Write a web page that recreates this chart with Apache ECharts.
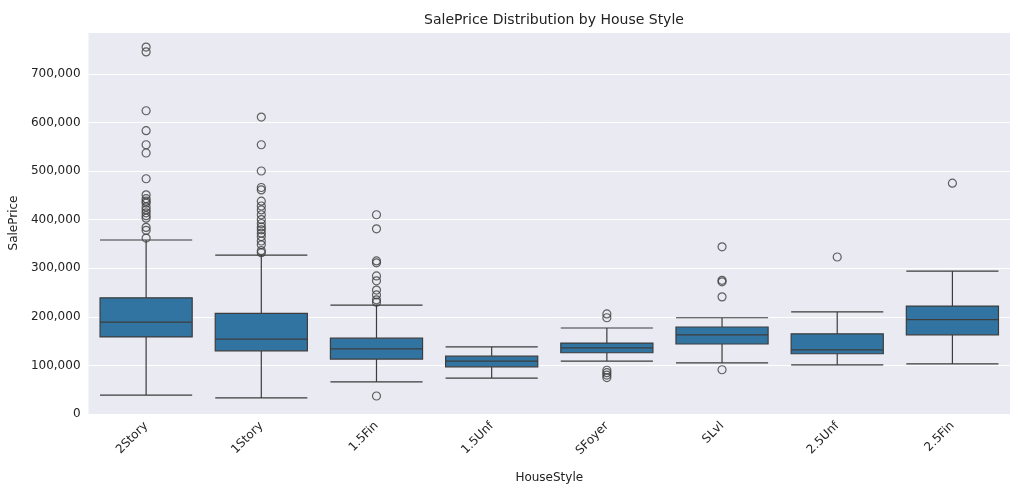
<!DOCTYPE html>
<html><head><meta charset="utf-8">
<script src="https://cdn.jsdelivr.net/npm/echarts@6/dist/echarts.min.js"></script>
<style>body{margin:0;background:#fff}#main{width:1025px;height:496px}</style>
</head><body><div id="main"></div>
<script>
var styles = ['2Story', '1Story', '1.5Fin', '1.5Unf', 'SFoyer', 'SLvl', '2.5Unf', '2.5Fin'];
// [low whisker, Q1, median, Q3, high whisker]
var boxStats = [
    [39000, 158500, 189000, 239000, 358000],
    [33000, 130000, 154000, 207000, 327000],
    [66000, 113000, 134000, 156000, 224000],
    [74000, 97000, 109000, 119000, 138000],
    [109000, 126000, 136000, 146000, 177000],
    [105000, 144000, 163000, 179000, 198000],
    [101000, 124000, 132000, 165000, 210000],
    [103000, 163000, 194000, 222000, 294000]
];
var outliers = [
    [755000, 745000, 624000, 583000, 554000, 537000, 484000, 451000, 443000, 438000, 434000, 426000, 420000, 414000, 408000, 403000, 384000, 378000, 362000],
    [611000, 554000, 500000, 466000, 461000, 438000, 428000, 420000, 410000, 400000, 392000, 385000, 379000, 372000, 365000, 356000, 348000, 336000, 332000],
    [410000, 381000, 315000, 311000, 284000, 274000, 255000, 245000, 235000, 230000, 37000],
    [],
    [206000, 198000, 90000, 85000, 80000, 75000],
    [344000, 275000, 272000, 241000, 91000],
    [323000],
    [475000]
];

var myChart = echarts.init(document.getElementById('main'));
var scatterData = [];
outliers.forEach(function (arr, i) {
    arr.forEach(function (v) { scatterData.push([i, v]); });
});
var ink = '#3d3d3d';
var option = {
    backgroundColor: '#fff',
    textStyle: { fontFamily: 'DejaVu Sans' },
    title: {
        text: 'SalePrice Distribution by House Style', left: 549, top: 8, textAlign: 'center',
        textStyle: { fontSize: 14, fontWeight: 'normal', color: '#222' }
    },
    grid: { left: 88, right: 15, top: 32, bottom: 82, show: true, backgroundColor: '#eaeaf2', borderWidth: 0 },
    xAxis: {
        type: 'category', data: styles, name: 'HouseStyle', nameLocation: 'middle', nameGap: 58,
        nameTextStyle: { fontSize: 12, color: '#222' },
        axisLine: { show: false }, axisTick: { show: false },
        axisLabel: { rotate: 45, fontSize: 12, color: '#222', margin: 10 }
    },
    yAxis: {
        type: 'value', min: 0, max: 786000, interval: 100000, name: 'SalePrice',
        nameLocation: 'middle', nameGap: 62, nameTextStyle: { fontSize: 12, color: '#222' },
        axisLine: { show: false }, axisTick: { show: false },
        axisLabel: { fontSize: 12, color: '#222', showMaxLabel: false },
        splitLine: { lineStyle: { color: '#fff', width: 1 } }
    },
    series: [
        {
            type: 'boxplot', data: boxStats, boxWidth: ['80%', '80%'],
            itemStyle: { color: '#3274a1', borderColor: ink, borderWidth: 1.2 }
        },
        {
            type: 'scatter', data: scatterData, symbol: 'circle', symbolSize: 8,
            itemStyle: { color: 'rgba(0,0,0,0)', borderColor: ink, borderWidth: 1.2 }
        }
    ]
};
myChart.setOption(option);
</script></body></html>
